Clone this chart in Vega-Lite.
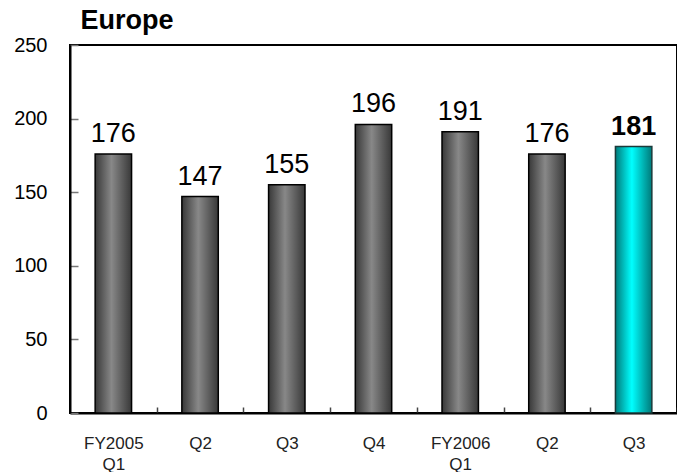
{
  "$schema": "https://vega.github.io/schema/vega-lite/v6.json",
  "autosize": "none",
  "padding": {"left": 70, "top": 45, "right": 0, "bottom": 59},
  "width": 607,
  "height": 368,
  "background": "white",
  "config": {"view": {"stroke": "black", "strokeWidth": 2}},
  "data": {"values": [
    {"period": "FY2005|Q1", "amount": 176, "hl": 0},
    {"period": "Q2", "amount": 147, "hl": 0},
    {"period": "Q3", "amount": 155, "hl": 0},
    {"period": "Q4", "amount": 196, "hl": 0},
    {"period": "FY2006|Q1", "amount": 191, "hl": 0},
    {"period": "Q2 ", "amount": 176, "hl": 0},
    {"period": "Q3 ", "amount": 181, "hl": 1}
  ]},
  "encoding": {
    "x": {"field": "period", "type": "nominal", "sort": null, "title": null,
      "scale": {"paddingInner": 0.58, "paddingOuter": 0.29},
      "axis": {"labelAngle": 0, "tickOffset": 43.36, "labelOffset": -43.36, "tickSize": -6, "tickColor": "#444", "tickWidth": 1.5,
        "domainColor": "black", "domainWidth": 2, "labelFont": "Liberation Sans", "labelFontSize": 17, "labelColor": "#222",
        "labelPadding": 28, "labelLineHeight": 21,
        "labelExpr": "split(datum.value, '|')"}},
    "y": {"field": "amount", "type": "quantitative",
      "title": "Europe",
      "scale": {"domain": [0, 250]},
      "axis": {"values": [0, 50, 100, 150, 200, 250], "grid": false, "tickSize": -8, "tickColor": "#777", "tickWidth": 1.5,
        "domainColor": "black", "domainWidth": 2, "labelFont": "Liberation Sans", "labelFontSize": 20, "labelColor": "black",
        "labelPadding": 31,
        "titleX": 10, "titleY": -17, "titleAngle": 0, "titleAlign": "left", "titleBaseline": "alphabetic",
        "titleFont": "Liberation Sans", "titleFontSize": 27, "titleFontWeight": "bold", "titleColor": "black"}}
  },
  "layer": [
    {"transform": [{"filter": "datum.hl == 0"}],
     "mark": {"type": "bar", "stroke": "black", "strokeWidth": 1.5,
       "fill": {"gradient": "linear", "x1": 0, "x2": 1, "y1": 0, "y2": 0,
         "stops": [{"offset": 0, "color": "#383838"}, {"offset": 0.45, "color": "#888888"}, {"offset": 1, "color": "#383838"}]}}},
    {"transform": [{"filter": "datum.hl == 1"}],
     "mark": {"type": "bar", "stroke": "#1a3a3a", "strokeWidth": 1.5,
       "fill": {"gradient": "linear", "x1": 0, "x2": 1, "y1": 0, "y2": 0,
         "stops": [{"offset": 0, "color": "#007a7a"}, {"offset": 0.45, "color": "#00ffff"}, {"offset": 1, "color": "#007a7a"}]}}},
    {"transform": [{"filter": "datum.hl == 0"}],
     "mark": {"type": "text", "dy": -12, "baseline": "alphabetic", "font": "Liberation Sans", "fontSize": 27, "color": "black"},
     "encoding": {"text": {"field": "amount", "type": "quantitative"}}},
    {"transform": [{"filter": "datum.hl == 1"}],
     "mark": {"type": "text", "dy": -12, "baseline": "alphabetic", "font": "Liberation Sans", "fontSize": 27, "fontWeight": "bold", "color": "black"},
     "encoding": {"text": {"field": "amount", "type": "quantitative"}}}
  ]
}
